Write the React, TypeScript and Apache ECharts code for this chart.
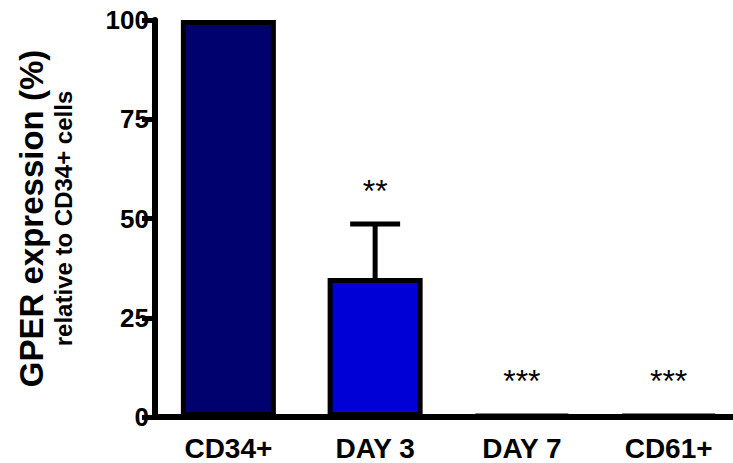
import React, { useEffect, useRef } from "react";
import * as echarts from "echarts";

const categories = ["CD34+", "DAY 3", "DAY 7", "CD61+"];
const meanValues = [100, 35, 0.5, 0.5];
const semValues = [0, 13.6, 0, 0];
const barColors = ["#00006E", "#0000D6", "#0000D6", "#0000D6"];
const sigLabels = ["", "**", "***", "***"];
const sigLevels = [0, 57, 9, 9];
const yTicks = { min: 0, max: 100, interval: 25 };

export default function App() {
  const ref = useRef<HTMLDivElement>(null);
  useEffect(() => {
    document.body.style.margin = "0";
    const chart = echarts.init(ref.current!, null, { renderer: "svg" });
    const font = "Liberation Sans, Arial, sans-serif";
    chart.setOption({
      animation: false,
      backgroundColor: "#ffffff",
      grid: { left: 155, top: 20, width: 587, height: 397, containLabel: false, outerBoundsMode: "none" },
      xAxis: {
        type: "category",
        data: categories,
        axisLine: { lineStyle: { color: "#000", width: 6 } },
        axisTick: { alignWithLabel: true, length: 14, lineStyle: { color: "#000", width: 5 } },
        axisLabel: { color: "#000", fontFamily: font, fontWeight: "bold", fontSize: 28, margin: 17 },
      },
      yAxis: {
        type: "value",
        min: yTicks.min,
        max: yTicks.max,
        interval: yTicks.interval,
        splitLine: { show: false },
        axisLine: { show: true, lineStyle: { color: "#000", width: 6 } },
        axisTick: { show: true, length: 13, lineStyle: { color: "#000", width: 5 } },
        axisLabel: { color: "#000", fontFamily: font, fontWeight: "bold", fontSize: 26, margin: 6 },
        name: "{a|GPER expression (%)}\n{b|relative to CD34+ cells}",
        nameLocation: "middle",
        nameRotate: 90,
        nameGap: 79,
        nameTextStyle: {
          rich: {
            a: { fontFamily: font, fontWeight: "bold", fontSize: 33, lineHeight: 38, color: "#000" },
            b: { fontFamily: font, fontWeight: "bold", fontSize: 24, lineHeight: 26, color: "#000" },
          },
        },
      },
      series: [
        {
          type: "bar",
          data: meanValues.map((v, i) => ({ value: v, itemStyle: { color: barColors[i] } })),
          barWidth: 95,
          itemStyle: { borderColor: "#000", borderWidth: 5 },
          z: 2,
        },
        {
          type: "custom",
          z: 1,
          data: meanValues.map((v, i) => [i, v, v + semValues[i]]),
          renderItem: (params: any, api: any) => {
            if (semValues[params.dataIndex] <= 0) return null;
            const p0 = api.coord([api.value(0), api.value(1)]);
            const p1 = api.coord([api.value(0), api.value(2)]);
            const style = { stroke: "#000", lineWidth: 5 };
            return {
              type: "group",
              children: [
                { type: "line", shape: { x1: p0[0], y1: p0[1], x2: p1[0], y2: p1[1] }, style },
                { type: "line", shape: { x1: p1[0] - 25, y1: p1[1], x2: p1[0] + 25, y2: p1[1] }, style },
              ],
            };
          },
        },
        {
          type: "custom",
          z: 3,
          data: sigLevels.map((v, i) => [i, v]),
          renderItem: (params: any, api: any) => {
            const t = sigLabels[params.dataIndex];
            if (!t) return null;
            const p = api.coord([api.value(0), api.value(1)]);
            return {
              type: "text",
              x: p[0],
              y: p[1],
              style: {
                text: t,
                fontFamily: font,
                fontSize: 32,
                fill: "#000",
                align: "center",
                verticalAlign: "middle",
              },
            };
          },
        },
      ],
    });
    return () => chart.dispose();
  }, []);
  return <div ref={ref} style={{ width: 733, height: 463 }} />;
}
